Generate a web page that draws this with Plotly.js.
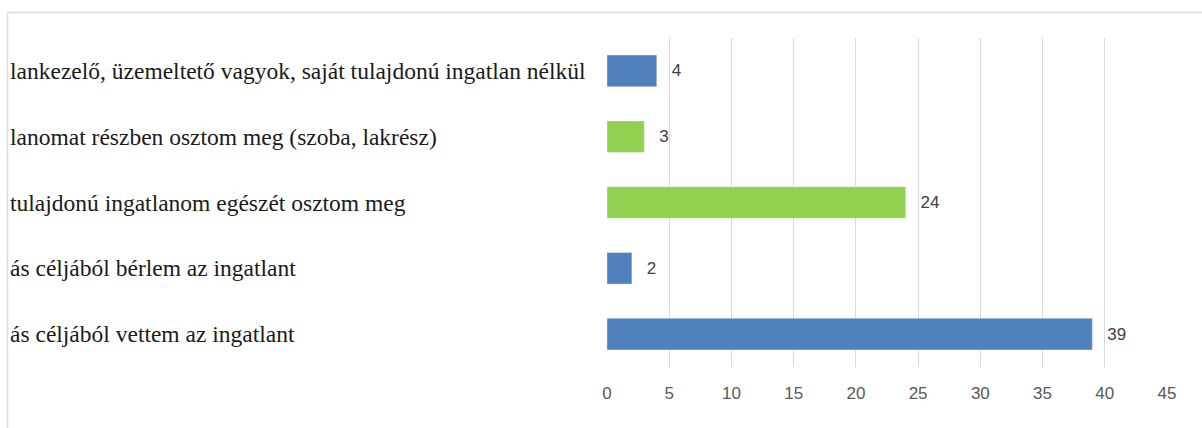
<!DOCTYPE html>
<html>
<head>
<meta charset="utf-8">
<script src="https://cdn.plot.ly/plotly-3.0.1.min.js"></script>
<style>
html,body{margin:0;padding:0;background:#fff;}
#chart{width:1202px;height:428px;}
</style>
</head>
<body>
<div id="chart"></div>
<script>
// Categories from top to bottom (visible, left-clipped labels as in the reference)
const categories = [
  "lankezelő, üzemeltető vagyok, saját tulajdonú ingatlan nélkül",
  "lanomat részben osztom meg (szoba, lakrész)",
  "tulajdonú ingatlanom egészét osztom meg",
  "ás céljából bérlem az ingatlant",
  "ás céljából vettem az ingatlant"
];
const values = [4, 3, 24, 2, 39];
const barColors = ["#4F81BD", "#92D050", "#92D050", "#4F81BD", "#4F81BD"];
const xTicks = [0, 5, 10, 15, 20, 25, 30, 35, 40, 45];

const W = 1202, H = 428;
const margin = {l: 607, r: 35, t: 38, b: 61};
const plotW = W - margin.l - margin.r;
const labelLeftPx = 8;

const trace = {
  type: "bar",
  orientation: "h",
  y: categories,
  x: values,
  marker: {color: barColors, line: {color: "rgba(255,255,255,0.35)", width: 1}},
  width: 0.48,
  texttemplate: "\u2002\u2009%{x}",
  textposition: "outside",
  cliponaxis: false,
  textfont: {family: "Liberation Sans, Arial, sans-serif", size: 17, color: "#404040"},
  hoverinfo: "none"
};

const annotations = categories.map(c => ({
  xref: "paper", yref: "y",
  x: (labelLeftPx - margin.l) / plotW,
  y: c,
  xanchor: "left", yanchor: "middle",
  text: c,
  showarrow: false,
  font: {family: "Liberation Serif, Times New Roman, serif", size: 23.5, color: "#1a1a1a"}
}));

const layout = {
  width: W, height: H,
  margin: margin,
  paper_bgcolor: "#fff", plot_bgcolor: "#fff",
  showlegend: false,
  bargap: 0.52,
  xaxis: {
    range: [0, 45],
    tickvals: xTicks,
    ticktext: xTicks.map(String),
    showgrid: true, gridcolor: "#d9d9d9", gridwidth: 1,
    zeroline: false, showline: false, ticks: "",
    ticklabelstandoff: 14,
    tickfont: {family: "Liberation Sans, Arial, sans-serif", size: 17, color: "#595959"},
    fixedrange: true
  },
  yaxis: {
    type: "category",
    categoryorder: "array",
    categoryarray: categories.slice().reverse(),
    range: [-0.5, categories.length - 0.5],
    showticklabels: false, showgrid: false, zeroline: false, showline: false, ticks: "",
    fixedrange: true
  },
  annotations: annotations,
  shapes: [
    {type: "line", xref: "paper", yref: "paper",
     x0: (7 - margin.l) / plotW, x1: (W - margin.l) / plotW,
     y0: (H - margin.b - 12.5) / (H - margin.t - margin.b), y1: (H - margin.b - 12.5) / (H - margin.t - margin.b),
     line: {color: "#dcdcdc", width: 1.5}},
    {type: "line", xref: "paper", yref: "paper",
     x0: (7.5 - margin.l) / plotW, x1: (7.5 - margin.l) / plotW,
     y0: (H - margin.b - 12.5) / (H - margin.t - margin.b), y1: -margin.b / (H - margin.t - margin.b),
     line: {color: "#dcdcdc", width: 1.5}}
  ]
};

Plotly.newPlot("chart", [trace], layout, {displayModeBar: false, staticPlot: true});
</script>
</body>
</html>
